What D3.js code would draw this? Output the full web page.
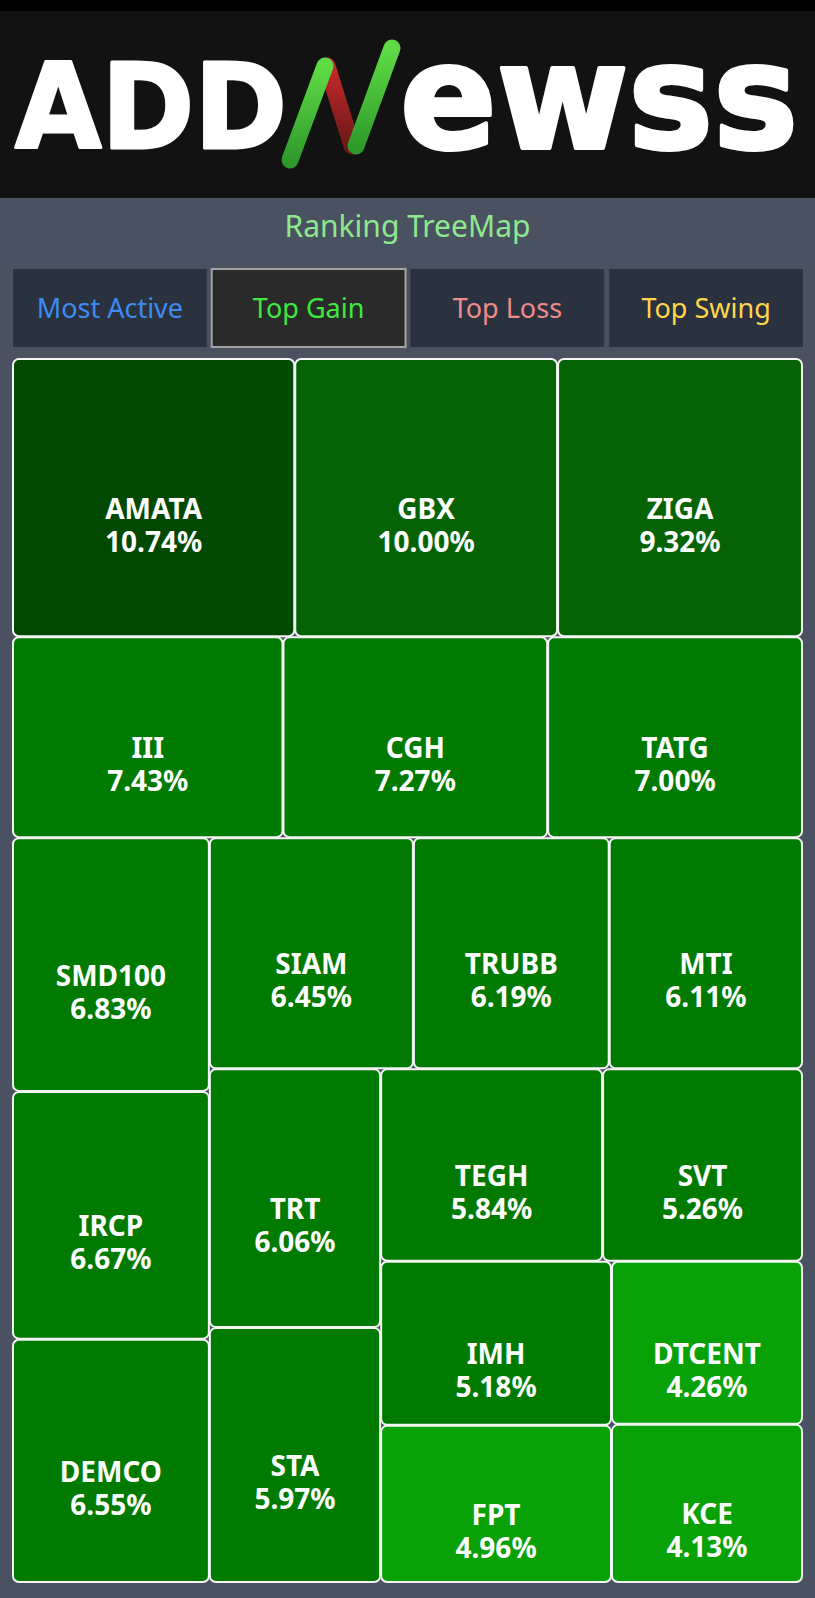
<!DOCTYPE html>
<html>
<head>
<meta charset="utf-8">
<script src="https://cdn.jsdelivr.net/npm/d3@7"></script>
<style>
  body { margin: 0; background: #4a5261; }
  svg { display: block; }
</style>
</head>
<body>
<svg id="page" width="815" height="1598"></svg>
<script>
// values
const tickers = ["AMATA", "GBX", "ZIGA", "III", "CGH", "TATG", "SMD100", "IRCP", "DEMCO", "SIAM",
  "TRUBB", "MTI", "TRT", "STA", "TEGH", "SVT", "IMH", "FPT", "DTCENT", "KCE"];
const gains = [10.74, 10.00, 9.32, 7.43, 7.27, 7.00, 6.83, 6.67, 6.55, 6.45,
  6.19, 6.11, 6.06, 5.97, 5.84, 5.26, 5.18, 4.96, 4.26, 4.13];

const tabs = ["Most Active", "Top Gain", "Top Loss", "Top Swing"];
const tabColors = ["#3d8bf0", "#3ee83e", "#f08a8a", "#ffd54a"];
const activeTab = "Top Gain";
const title = "Ranking TreeMap";

const svg = d3.select("#page");
const W = +svg.attr("width");
const H = +svg.attr("height");
const font = "'Noto Sans', 'Open Sans', sans-serif";

// ---- header / logo
svg.append("rect").attr("width", W).attr("height", 198).attr("fill", "#121212");
svg.append("rect").attr("width", W).attr("height", 11).attr("fill", "#000");

const defs = svg.append("defs");
const gGreen = defs.append("linearGradient").attr("id", "ngreen")
  .attr("x1", 0).attr("y1", 0).attr("x2", 0).attr("y2", 1);
gGreen.append("stop").attr("offset", "0%").attr("stop-color", "#5fdc45");
gGreen.append("stop").attr("offset", "100%").attr("stop-color", "#2f9a2c");
const gRed = defs.append("linearGradient").attr("id", "nred")
  .attr("x1", 0).attr("y1", 0).attr("x2", 0).attr("y2", 1);
gRed.append("stop").attr("offset", "0%").attr("stop-color", "#c52a2a");
gRed.append("stop").attr("offset", "100%").attr("stop-color", "#6d1717");

const logo = svg.append("g").attr("class", "logo");
logo.append("text")
  .attr("x", 15).attr("y", 148)
  .attr("textLength", 272).attr("lengthAdjust", "spacingAndGlyphs")
  .attr("font-family", "'DejaVu Sans', sans-serif").attr("font-weight", "bold")
  .attr("font-size", 117)
  .attr("fill", "#fff").attr("stroke", "#fff").attr("stroke-width", 3).attr("stroke-linejoin", "round")
  .text("ADD");
logo.append("text")
  .attr("x", 400).attr("y", 148)
  .attr("textLength", 398).attr("lengthAdjust", "spacingAndGlyphs")
  .attr("font-family", "'DejaVu Sans', sans-serif").attr("font-weight", "bold")
  .attr("font-size", 146)
  .attr("fill", "#fff").attr("stroke", "#fff").attr("stroke-width", 4).attr("stroke-linejoin", "round")
  .text("ewss");
// the "N" strokes
const nStroke = (x1, y1, x2, y2, fill) => logo.append("line")
  .attr("x1", x1).attr("y1", y1).attr("x2", x2).attr("y2", y2)
  .attr("stroke", fill).attr("stroke-width", 17).attr("stroke-linecap", "round");
nStroke(327, 66, 352, 146, "url(#nred)");
nStroke(290, 160, 325, 66, "url(#ngreen)");
nStroke(356, 146, 392, 48, "url(#ngreen)");

// ---- title
svg.append("text")
  .attr("x", W / 2).attr("y", 237)
  .attr("text-anchor", "middle")
  .attr("font-family", font).attr("font-size", 30)
  .attr("fill", "#8ee88e")
  .text(title);

// ---- tabs
const tabX = d3.scaleBand().domain(tabs).range([13, 803]).paddingInner(0.025);
const tabG = svg.append("g").selectAll("g").data(tabs).enter().append("g");
tabG.append("rect")
  .attr("x", d => tabX(d)).attr("y", 269)
  .attr("width", tabX.bandwidth()).attr("height", 78)
  .attr("fill", d => d === activeTab ? "#2a2a2a" : "#2a3240")
  .attr("stroke", d => d === activeTab ? "#a3a3a3" : "none")
  .attr("stroke-width", 2);
tabG.append("text")
  .attr("x", d => tabX(d) + tabX.bandwidth() / 2).attr("y", 318)
  .attr("text-anchor", "middle")
  .attr("font-family", font).attr("font-size", 27)
  .attr("fill", (d, i) => tabColors[i])
  .text(d => d);

// ---- treemap
const box = {x: 13, y: 359, w: 789, h: 1223};
const root = d3.hierarchy({children: tickers.map((t, i) => ({name: t, value: gains[i]}))})
  .sum(d => d.value)
  .sort((a, b) => b.value - a.value);
d3.treemap().tile(d3.treemapSquarify.ratio(1)).size([box.w, box.h]).paddingInner(1)(root);

const color = d3.scaleThreshold()
  .domain([5, 9, 10.5])
  .range(["#08a108", "#017a01", "#056305", "#014801"]);

const cells = svg.append("g")
  .attr("transform", `translate(${box.x},${box.y})`)
  .selectAll("g").data(root.leaves()).enter().append("g")
  .attr("class", "cell");

cells.append("rect")
  .attr("x", d => d.x0).attr("y", d => d.y0)
  .attr("width", d => d.x1 - d.x0).attr("height", d => d.y1 - d.y0)
  .attr("rx", 6)
  .attr("fill", d => color(d.data.value))
  .attr("stroke", "#f4f4f4").attr("stroke-width", 2);

// name and percent as two separate labels
cells.append("text")
  .attr("x", d => (d.x0 + d.x1) / 2).attr("y", d => (d.y0 + d.y1) / 2 + 21)
  .attr("text-anchor", "middle")
  .attr("font-family", font).attr("font-weight", "bold").attr("font-size", 28)
  .attr("fill", "#fff")
  .text(d => d.data.name);
cells.append("text")
  .attr("x", d => (d.x0 + d.x1) / 2).attr("y", d => (d.y0 + d.y1) / 2 + 54)
  .attr("text-anchor", "middle")
  .attr("font-family", font).attr("font-weight", "bold").attr("font-size", 28)
  .attr("fill", "#fff")
  .text(d => d.data.value.toFixed(2) + "%");
</script>
</body>
</html>
